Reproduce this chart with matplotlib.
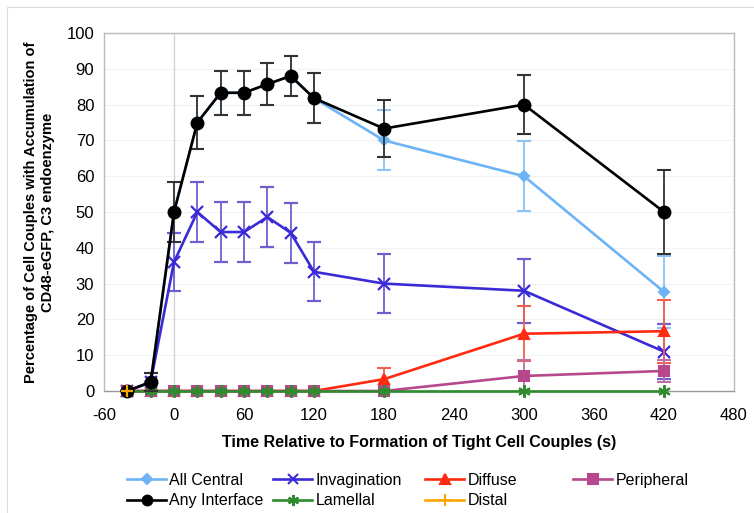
import matplotlib.pyplot as plt
from matplotlib.lines import Line2D
from matplotlib.patches import Rectangle

plt.rcParams['font.family'] = ['Liberation Sans', 'DejaVu Sans']
plt.rcParams['axes.unicode_minus'] = False

nan = float('nan')

# time points (s) relative to formation of tight cell couples
t = [-40, -20, 0, 20, 40, 60, 80, 100, 120, 180, 300, 420]

any_interface = [0, 2.5, 50, 75, 83.3, 83.3, 85.7, 88, 81.8, 73.3, 80, 50]
any_interface_err = [0, 2.5, 8.4, 7.3, 6.2, 6.2, 5.8, 5.6, 6.9, 8, 8.2, 11.8]

all_central = [0, 2.5, 50, 75, 83.3, 83.3, 85.7, 88, 81.8, 70, 60, 27.7]
all_central_err = [0, 2.5, 8.4, 7.3, 6.2, 6.2, 5.8, 5.6, 6.9, 8.4, 9.7, 10]

invagination = [0, 2.5, 36, 50, 44.4, 44.4, 48.6, 44.2, 33.3, 30, 28, 11]
invagination_err = [0, 0, 8, 8.3, 8.4, 8.4, 8.3, 8.4, 8.2, 8.3, 8.9, 7.7]

diffuse = [0, 0, 0, 0, 0, 0, 0, 0, 0, 3.3, 16, 16.7]
diffuse_err = [0, 0, 0, 0, 0, 0, 0, 0, 0, 3.2, 7.7, 8.8]

peripheral = [0, 0, 0, 0, 0, 0, 0, 0, 0, 0, 4.2, 5.6]
peripheral_err = [0, 0, 0, 0, 0, 0, 0, 0, 0, 0, 4.4, 3]

lamellal = [0] * len(t)
distal = [0] + [nan] * (len(t) - 1)

fig = plt.figure(figsize=(7.54, 5.13), dpi=100, facecolor='white')
ax = fig.add_axes([104 / 754, 1 - 391 / 513, 630 / 754, 358 / 513])

# faint frame around the whole chart
fig.patches.append(Rectangle((7 / 754, -0.1), 1.2, 1 - 7 / 513 + 0.1,
                             transform=fig.transFigure, fill=False,
                             edgecolor='#dddddd', linewidth=0.8))

ax.set_axisbelow(True)
ax.grid(axis='y', color='#f2f2f2', linewidth=0.8)
ax.axvline(0, color='#d0d0d0', linewidth=0.9, zorder=1)


def draw(y, err, color, ecolor, marker, ms, label, z, mew=1.5):
    cont = ax.errorbar(t, y, yerr=err, color=color, ecolor=ecolor,
                       marker=marker, markersize=ms, markeredgewidth=mew,
                       linewidth=1.9, elinewidth=1.3, capsize=5,
                       capthick=1.3, label=label, zorder=z)
    # keep markers sitting on the zero line fully visible
    cont.lines[0].set_clip_on(False)


draw(all_central, all_central_err, '#6cb4f5', '#8cc4f5', 'D', 5, 'All Central', 3)
draw(invagination, invagination_err, '#3a2bd6', '#6d5fd0', 'x', 8, 'Invagination', 4, mew=1.6)
draw(diffuse, diffuse_err, '#ff2a10', '#f06050', '^', 7.5, 'Diffuse', 5)
draw(peripheral, peripheral_err, '#b8488c', '#c070a0', 's', 7.5, 'Peripheral', 6)
ax.plot(t, lamellal, color='#2e8b2e', marker=(6, 2, 0), markersize=9,
        markeredgewidth=1.5, linewidth=1.9, label='Lamellal', zorder=7,
        clip_on=False)
draw(any_interface, any_interface_err, 'black', '#333333', 'o', 8.5, 'Any Interface', 8)
ax.plot(t, distal, color='#ffa500', marker='+', markersize=9,
        markeredgewidth=1.6, linewidth=1.9, label='Distal', zorder=9,
        clip_on=False)

ax.set_xlim(-60, 480)
ax.set_ylim(0, 100)
ax.set_xticks(range(-60, 481, 60))
ax.set_yticks(range(0, 101, 10))
ax.tick_params(length=0, labelsize=12)
ax.tick_params(axis='x', pad=12)
ax.tick_params(axis='y', pad=7)
for s in ax.spines.values():
    s.set_color('#bbbbbb')
    s.set_linewidth(1.0)
ax.spines['bottom'].set_color('#999999')

ax.set_xlabel('Time Relative to Formation of Tight Cell Couples (s)',
              fontsize=11.5, fontweight='bold', labelpad=9)
ax.set_ylabel('Percentage of Cell Couples with Accumulation of\nCD48-eGFP, C3 endoenzyme',
              fontsize=10.5, fontweight='bold', labelpad=8, linespacing=1.35)


def handle(color, marker, ms, mew=1.5):
    return Line2D([], [], color=color, marker=marker, markersize=ms,
                  markeredgewidth=mew, linewidth=1.9)


# legend laid out as four columns placed individually
legend_cols = [
    (127, [handle('#6cb4f5', 'D', 5), handle('black', 'o', 7)],
     ['All Central', 'Any Interface']),
    (273, [handle('#3a2bd6', 'x', 7), handle('#2e8b2e', (6, 2, 0), 8)],
     ['Invagination', 'Lamellal']),
    (425, [handle('#ff2a10', '^', 7), handle('#ffa500', '+', 8)],
     ['Diffuse', 'Distal']),
    (573, [handle('#b8488c', 's', 7)], ['Peripheral']),
]
for x0, hs, labels in legend_cols:
    fig.legend(hs, labels, loc='upper left',
               bbox_to_anchor=(x0 / 754, 1 - 473 / 513), frameon=False,
               fontsize=11.5, handlelength=2.45, handletextpad=0.2,
               labelspacing=0.32, borderaxespad=0, borderpad=0)

fig.savefig('out.png', dpi=100, facecolor='white')
